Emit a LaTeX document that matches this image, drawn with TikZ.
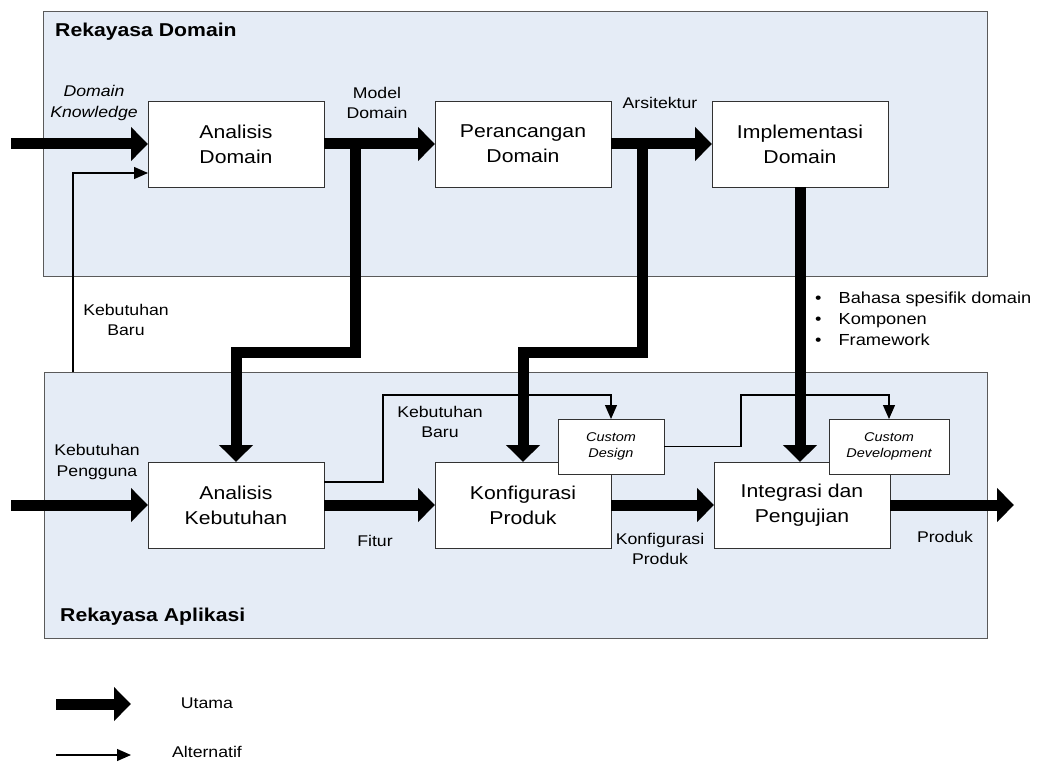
\documentclass[tikz,border=0pt]{standalone}
\usepackage{fontspec}
\setmainfont[FakeStretch=1.14]{Liberation Sans}
\usetikzlibrary{arrows.meta}

\definecolor{panelfill}{RGB}{229,236,246}
\definecolor{panelline}{RGB}{90,90,90}
\definecolor{boxline}{RGB}{50,50,50}

\newcommand{\fntbox}{\fontsize{18.6}{25}\selectfont}
\newcommand{\fntlbl}{\fontsize{15.5}{20.5}\selectfont}
\newcommand{\fntsmall}{\fontsize{12.7}{16}\selectfont\itshape}
\newcommand{\fnthead}{\fontsize{18.6}{22}\selectfont\bfseries}

\tikzset{
  panel/.style={draw=panelline, fill=panelfill, line width=0.9pt, inner sep=0pt,
    outer sep=0pt, anchor=north west},
  box/.style={draw=boxline, fill=white, line width=0.9pt, minimum width=176pt,
    minimum height=86pt, inner sep=0pt, outer sep=0pt, align=center,
    anchor=north west, font=\fntbox},
  custombox/.style={draw=boxline, fill=white, line width=0.9pt, minimum height=55pt,
    inner sep=0pt, outer sep=0pt, align=center, anchor=north west, font=\fntsmall},
  lbl/.style={align=center, inner sep=0pt, font=\fntlbl},
  head/.style={anchor=west, inner sep=0pt, font=\fnthead},
  utama/.style={line width=11pt, line join=miter, -{Triangle[length=17pt,width=33pt]}},
  alternatif/.style={line width=1.2pt, -{Triangle[length=14pt,width=12pt]}},
}

\begin{document}
\begin{tikzpicture}[x=1pt, y=-1pt]
\useasboundingbox (0,0) rectangle (1040,762);

% the two engineering areas
\node[panel, minimum width=944pt, minimum height=265pt] (rd) at (43,11) {};
\node[panel, minimum width=943pt, minimum height=266pt] (ra) at (44,372) {};
\node[head] (rdh) at (55,32) {Rekayasa Domain};
\node[head] (rah) at (60,617) {Rekayasa Aplikasi};

% process steps
\node[box] (ad) at (148,101) {Analisis\\Domain};
\node[box] (pd) at (435,101) {Perancangan\\Domain};
\node[box] (id) at (712,101) {Implementasi\\Domain};
\node[box] (ak) at (148,462) {Analisis\\Kebutuhan};
\node[box] (kp) at (435,462) {Konfigurasi\\Produk};
\node[box] (ip) at (714,462) {Integrasi dan\\Pengujian};
\node[custombox, minimum width=106pt] (cd) at (558,419) {Custom\\Design};
\node[custombox, minimum width=120pt] (cdev) at (829,419) {Custom\\Development};

% free ends and bends
\coordinate (dkin) at (11,144);
\coordinate (kpin) at (11,505);
\coordinate (prout) at (1014,505);
\coordinate (j1) at (355,144);
\coordinate (b1) at (236,352);
\coordinate (j2) at (642,144);
\coordinate (b2) at (523,352);
\coordinate (kb) at (73,372);
\coordinate (adin) at (148,173);
\coordinate (akout) at (324,482);
\coordinate (t1) at (383,395);
\coordinate (t2) at (741,395);

% alternative flows
\draw[alternatif] (kb) |- (adin);
\draw[alternatif] (akout) -| (t1) -| (cd.north);
\draw[alternatif] (cd.east) -| (t2) -| (cdev.north);

% main flows
\draw[utama] (dkin) -- (ad.west);
\draw[utama] (ad.east) -- (pd.west);
\draw[utama] (pd.east) -- (id.west);
\draw[utama] (j1) |- (b1) -- (ak.north);
\draw[utama] (j2) |- (b2) -- (kp.north);
\draw[utama] (id.south) -- (id.south |- ip.north);
\draw[utama] (kpin) -- (ak.west);
\draw[utama] (ak.east) -- (kp.west);
\draw[utama] (kp.east) -- (ip.west);
\draw[utama] (ip.east) -- (prout);

% flow labels
\node[lbl, font=\fntlbl\itshape] (ldk) at (94,103) {Domain\\Knowledge};
\node[lbl] (lmd) at (377,103) {Model\\Domain};
\node[lbl] (lar) at (660,103) {Arsitektur};
\node[lbl] (lkb1) at (126,320) {Kebutuhan\\Baru};
\node[lbl] (lkb2) at (440,422) {Kebutuhan\\Baru};
\node[lbl] (lkp) at (97,462) {Kebutuhan\\Pengguna};
\node[lbl] (lfi) at (375,541) {Fitur};
\node[lbl] (lko) at (660,549) {Konfigurasi\\Produk};
\node[lbl] (lpr) at (945,537) {Produk};

% outputs of domain implementation
\node[anchor=west, inner sep=0pt] (lst) at (815,320) {\fontsize{16}{21}\selectfont
  \begin{tabular}{@{}l@{\hspace{17pt}}l@{}}
  \textbullet & Bahasa spesifik domain\\
  \textbullet & Komponen\\
  \textbullet & Framework
  \end{tabular}};

% legend
\coordinate (lg1a) at (56,704);
\coordinate (lg1b) at (131,704);
\coordinate (lg2a) at (56,755);
\coordinate (lg2b) at (131,755);
\draw[utama] (lg1a) -- (lg1b);
\draw[alternatif] (lg2a) -- (lg2b);
\node[lbl] (lut) at (207,703) {Utama};
\node[lbl] (lal) at (207,752) {Alternatif};
\end{tikzpicture}
\end{document}
